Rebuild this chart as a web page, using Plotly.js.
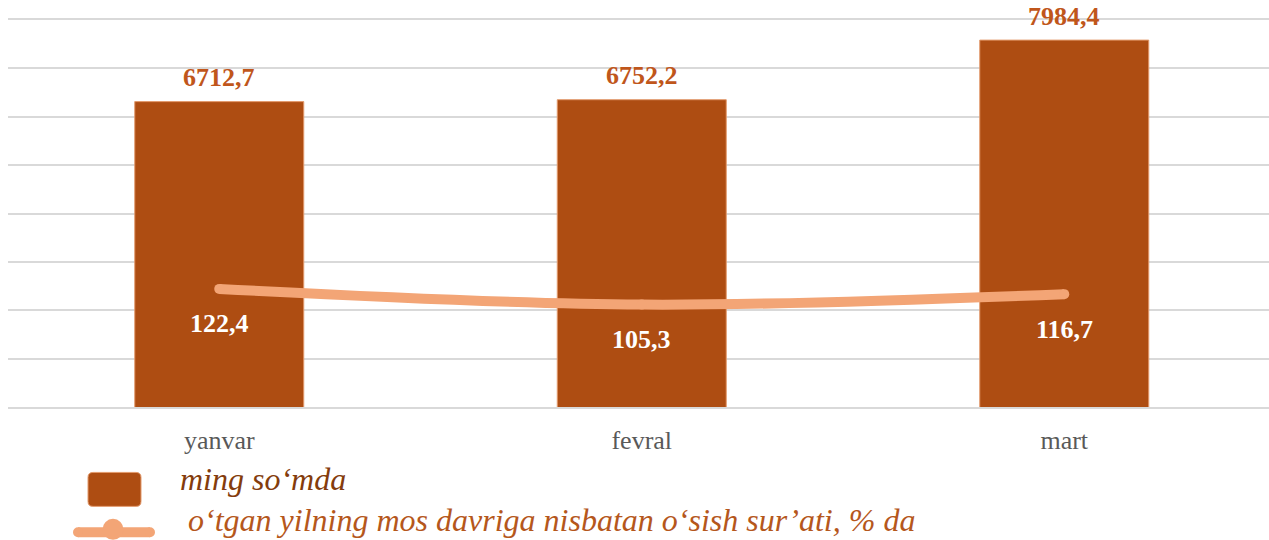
<!DOCTYPE html>
<html>
<head>
<meta charset="utf-8">
<script src="https://cdn.plot.ly/plotly-3.0.1.min.js"></script>
<style>html,body{margin:0;padding:0;background:#fff;}#chart{width:1269px;height:540px;}</style>
</head>
<body>
<div id="chart"></div>
<script>
const categories = ['yanvar', 'fevral', 'mart'];
const amountValues = [6712.7, 6752.2, 7984.4];
const growthValues = [122.4, 105.3, 116.7];
const legendLabels = ['ming so\u2018mda', 'o\u2018tgan yilning mos davriga nisbatan o\u2018sish sur\u2019ati, % da'];

const W = 1269, H = 540;
const L = 8, R = 0, T = 20, B = 132.5;
const PW = W - L - R, PH = H - T - B;
const px = X => (X - L) / PW;
const py = Y => (H - B - Y) / PH;
const fmt = v => v.toFixed(1).replace('.', ',');

const barColor = '#AE4D12';
const lineColor = '#F3A576';

const traces = [
  {
    type: 'bar', x: categories, y: amountValues, name: legendLabels[0],
    marker: {color: barColor, line: {color: '#E39A6C', width: 1}},
    width: 0.4, hoverinfo: 'y'
  },
  {
    type: 'scatter', mode: 'lines+markers', x: categories, y: growthValues, yaxis: 'y2',
    name: legendLabels[1],
    line: {color: lineColor, width: 10, shape: 'spline', smoothing: 1},
    marker: {color: lineColor, size: 10}, cliponaxis: false
  }
];

const annotations = [];
categories.forEach((c, i) => {
  annotations.push({
    x: c, y: amountValues[i], xref: 'x', yref: 'y', text: '<b>' + fmt(amountValues[i]) + '</b>',
    showarrow: false, yanchor: 'middle', yshift: 24,
    font: {family: 'Liberation Serif, Times New Roman, serif', size: 26, color: '#C0561B'}
  });
  annotations.push({
    x: c, y: growthValues[i], xref: 'x', yref: 'y2', text: '<b>' + fmt(growthValues[i]) + '</b>',
    showarrow: false, yanchor: 'middle', yshift: -35,
    font: {family: 'Liberation Serif, Times New Roman, serif', size: 26, color: '#FFFFFF'}
  });
});
annotations.push({
  x: px(178), y: py(480), xref: 'paper', yref: 'paper', xanchor: 'left', yanchor: 'middle',
  text: '<i>' + legendLabels[0] + '</i>', showarrow: false,
  font: {family: 'Liberation Serif, serif', size: 32, color: '#843C0C'}
});
annotations.push({
  x: px(186), y: py(521), xref: 'paper', yref: 'paper', xanchor: 'left', yanchor: 'middle',
  text: '<i>' + legendLabels[1] + '</i>', showarrow: false,
  font: {family: 'Liberation Serif, serif', size: 32, color: '#B5571C'}
});

// rounded legend swatch
function roundRect(x0, y0, x1, y1, r) {
  const P = (X, Y) => px(X) + ',' + py(Y);
  return 'M' + P(x0 + r, y0) + ' L' + P(x1 - r, y0) + ' Q' + P(x1, y0) + ' ' + P(x1, y0 + r) +
    ' L' + P(x1, y1 - r) + ' Q' + P(x1, y1) + ' ' + P(x1 - r, y1) +
    ' L' + P(x0 + r, y1) + ' Q' + P(x0, y1) + ' ' + P(x0, y1 - r) +
    ' L' + P(x0, y0 + r) + ' Q' + P(x0, y0) + ' ' + P(x0 + r, y0) + ' Z';
}
const shapes = [
  {type: 'path', xref: 'paper', yref: 'paper', path: roundRect(88, 473, 141, 507, 5),
   fillcolor: barColor, line: {color: '#E39A6C', width: 1}},
  {type: 'line', xref: 'paper', yref: 'paper', x0: px(78), x1: px(150), y0: py(533), y1: py(533),
   line: {color: lineColor, width: 10}},
  {type: 'circle', xref: 'paper', yref: 'paper', x0: px(73), x1: px(83), y0: py(528), y1: py(538),
   fillcolor: lineColor, line: {width: 0}},
  {type: 'circle', xref: 'paper', yref: 'paper', x0: px(145), x1: px(155), y0: py(528), y1: py(538),
   fillcolor: lineColor, line: {width: 0}},
  {type: 'circle', xref: 'paper', yref: 'paper', x0: px(102.5), x1: px(123.5), y0: py(519.5), y1: py(540.5),
   fillcolor: lineColor, line: {width: 0}}
];

const layout = {
  width: W, height: H,
  margin: {l: L, r: R, t: T, b: B, pad: 0},
  paper_bgcolor: '#FFFFFF', plot_bgcolor: '#FFFFFF',
  showlegend: false,
  separators: ', ',
  xaxis: {
    type: 'category', range: [-0.5, -0.5 + PW / 422.5],
    showgrid: false, zeroline: false, ticks: '',
    showline: true, mirror: true, linecolor: '#D9D9D9', linewidth: 2,
    tickfont: {family: 'Liberation Serif, Times New Roman, serif', size: 26, color: '#595959'},
    ticklabelstandoff: 9
  },
  yaxis: {
    range: [400, 8400], tick0: 400, dtick: 1000, showticklabels: false,
    showgrid: true, gridcolor: '#D9D9D9', gridwidth: 2, zeroline: false, showline: false, ticks: ''
  },
  yaxis2: {
    overlaying: 'y', side: 'right', range: [-6.4, 415.7],
    showgrid: false, zeroline: false, showticklabels: false, showline: false, ticks: ''
  },
  annotations: annotations,
  shapes: shapes
};

Plotly.newPlot('chart', traces, layout, {displayModeBar: false, staticPlot: true});
</script>
</body>
</html>
